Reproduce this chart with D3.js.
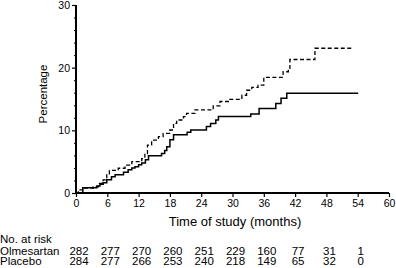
<!DOCTYPE html>
<html><head><meta charset="utf-8">
<script src="https://cdn.jsdelivr.net/npm/d3@7"></script>
<style>
html,body{margin:0;padding:0;background:#fff;}
svg{display:block;font-family:"Liberation Sans",Arial,Helvetica,sans-serif;}
</style></head>
<body><svg id="c" width="396" height="268"></svg>
<script>
// ---- data ----
const olmeTime  = [0, 1.3, 4.0, 4.6, 5.2, 5.9, 6.8, 7.5, 9.1, 10.0, 10.7, 11.3, 12.0, 12.6, 13.3, 13.9, 16.4, 17.0, 17.4, 18.0, 18.7, 21.3, 22.0, 25.0, 25.8, 26.8, 27.3, 33.5, 35.1, 38.3, 39.3, 40.4, 54.1];
const olmeValue = [0, 0.85, 1.1, 1.4, 1.65, 2.1, 2.6, 2.9, 3.3, 3.7, 4.0, 4.2, 4.5, 4.8, 5.3, 5.95, 6.3, 6.8, 7.4, 8.5, 9.3, 9.7, 10.05, 10.6, 11.1, 11.65, 12.2, 12.6, 13.5, 14.3, 15.1, 15.9, 15.9];
const placTime  = [0, 0.45, 1.5, 3.3, 4.3, 5.2, 5.9, 6.4, 8.1, 9.4, 10.7, 12.6, 13.2, 13.7, 14.5, 15.8, 16.7, 18.0, 18.7, 19.3, 20.6, 21.2, 22.8, 26.3, 27.6, 29.5, 31.8, 32.7, 33.7, 34.9, 36.0, 39.7, 40.7, 41.0, 45.8, 53.2];
const placValue = [0, 0.5, 0.8, 1.0, 1.55, 2.1, 2.9, 3.6, 3.95, 4.45, 5.0, 5.5, 6.3, 7.65, 8.45, 9.0, 9.5, 10.05, 11.1, 11.65, 12.2, 12.7, 13.25, 13.9, 14.6, 14.95, 15.6, 16.4, 16.85, 17.2, 18.45, 19.35, 19.9, 21.3, 23.1, 23.1];
const xTicks = [0, 6, 12, 18, 24, 30, 36, 42, 48, 54, 60];
const yTicks = [0, 10, 20, 30];
const yMinorTicks = d3.range(0, 30.01, 2);
const riskTimes = [0, 6, 12, 18, 24, 30, 36, 42, 48, 54];
const riskOlme = [282, 277, 270, 260, 251, 229, 160, 77, 31, 1];
const riskPlac = [284, 277, 266, 253, 240, 218, 149, 65, 32, 0];
const groups = ["Olmesartan", "Placebo"];

// ---- layout ----
const svg = d3.select("#c");
const x = d3.scaleLinear().domain([0, 60]).range([76, 389]);
const y = d3.scaleLinear().domain([0, 30]).range([193, 5]);
const font = '"Liberation Sans",Arial,Helvetica,sans-serif';

// curves
const line = d3.line().x(d => x(d[0])).y(d => y(d[1])).curve(d3.curveStepAfter);
const olme = olmeTime.map((t, i) => [t, olmeValue[i]]);
const plac = placTime.map((t, i) => [t, placValue[i]]);
svg.append("path").datum(plac).attr("d", line).attr("fill", "none")
  .attr("stroke", "#000").attr("stroke-width", 1.3).attr("stroke-dasharray", "4,2.5");
svg.append("path").datum(olme).attr("d", line).attr("fill", "none")
  .attr("stroke", "#000").attr("stroke-width", 1.5);

// y axis
const yAxis = svg.append("g").attr("transform", "translate(76,0)")
  .call(d3.axisLeft(y).tickValues(yTicks).tickSize(4).tickPadding(2).tickFormat(d3.format("d")));
svg.append("g").attr("transform", "translate(76,0)")
  .call(d3.axisLeft(y).tickValues(yMinorTicks.filter(v => v % 10 !== 0)).tickSize(2).tickFormat(""))
  .call(g => g.select(".domain").remove())
  .selectAll("line").attr("stroke-width", 1);
// x axis
const xAxis = svg.append("g").attr("transform", "translate(0,193)")
  .call(d3.axisBottom(x).tickValues(xTicks).tickSize(4).tickPadding(3).tickFormat(d3.format("d")));
[yAxis, xAxis].forEach(g => {
  g.select(".domain").attr("stroke-width", 2).attr("d", null);
  g.selectAll(".tick line").attr("stroke-width", 1.2);
  g.selectAll("text").attr("font-family", font).attr("font-size", 10.5).attr("fill", "#000");
});
yAxis.select(".domain").attr("d", `M0,${y(30)}V${y(0) + 1}`);
xAxis.select(".domain").attr("d", `M${x(0) - 1},0H${x(60)}`);

// axis titles
svg.append("text").attr("transform", `translate(47,${(y(0) + y(30)) / 2 - 5}) rotate(-90)`)
  .attr("text-anchor", "middle").attr("font-size", 11.5).attr("font-family", font).text("Percentage");
svg.append("text").attr("x", 235).attr("y", 226).attr("text-anchor", "middle")
  .attr("font-size", 13).attr("font-family", font).text("Time of study (months)");

// at risk table
const tfs = 11.5;
svg.append("text").attr("x", 0).attr("y", 243).attr("font-size", tfs).attr("font-family", font).text("No. at risk");
const rows = [riskOlme, riskPlac];
const rowY = [254.5, 265];
rows.forEach((r, j) => {
  svg.append("text").attr("x", 0).attr("y", rowY[j]).attr("font-size", tfs).attr("font-family", font).text(groups[j]);
  svg.selectAll(null).data(r).enter().append("text")
    .attr("x", (d, i) => x(riskTimes[i]) + 3).attr("y", rowY[j])
    .attr("text-anchor", "middle").attr("font-size", tfs).attr("font-family", font).text(d => d);
});
</script></body></html>
